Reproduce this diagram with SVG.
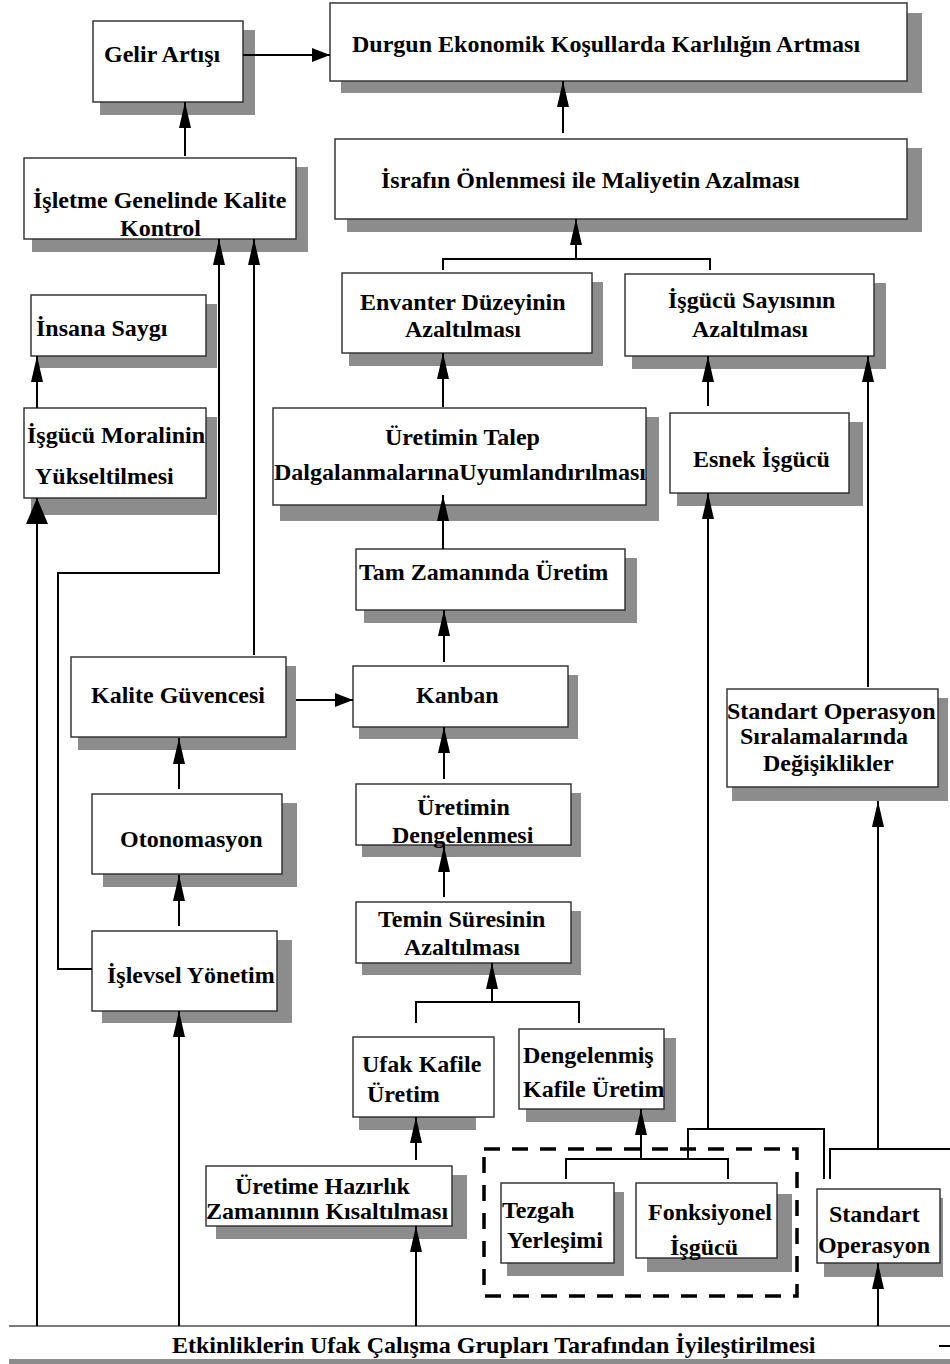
<svg xmlns="http://www.w3.org/2000/svg" width="950" height="1364" viewBox="0 0 950 1364">
<style>
.sh{fill:#8c8c8c;stroke:none}
.bx{fill:#fff;stroke:#2a2a2a;stroke-width:1.4}
.t{font-family:"Liberation Serif","Times New Roman",serif;font-weight:bold;font-size:24px;fill:#000}
.c{fill:none;stroke:#000;stroke-width:2}
.cv{fill:none;stroke:#000;stroke-width:2;marker-end:url(#av)}
.ch{fill:none;stroke:#000;stroke-width:2;marker-end:url(#ah)}
.cb{fill:none;stroke:#000;stroke-width:2;marker-end:url(#ab)}
.dash{fill:none;stroke:#000;stroke-width:3.5;stroke-dasharray:16 12}
</style>
<defs>
<marker id="av" markerUnits="userSpaceOnUse" viewBox="0 0 26 12" markerWidth="26" markerHeight="12" refX="26" refY="6" orient="auto"><path d="M0,0 L26,6 L0,12 Z" fill="#000"/></marker>
<marker id="ah" markerUnits="userSpaceOnUse" viewBox="0 0 18 14" markerWidth="18" markerHeight="14" refX="18" refY="7" orient="auto"><path d="M0,0 L18,7 L0,14 Z" fill="#000"/></marker>
<marker id="ab" markerUnits="userSpaceOnUse" viewBox="0 0 26 22" markerWidth="26" markerHeight="22" refX="26" refY="11" orient="auto"><path d="M0,0 L26,11 L0,22 Z" fill="#000"/></marker>
</defs>
<rect width="950" height="1364" fill="#fff"/>

<g id="n-gelir"><rect class="sh" x="100" y="30" width="155" height="85"/><rect class="bx" x="93" y="21" width="150" height="81"/><text class="t" x="104" y="62">Gelir Artışı</text></g>
<g id="n-durgun"><rect class="sh" x="341" y="13" width="581" height="80"/><rect class="bx" x="330" y="3" width="577" height="78"/><text class="t" x="352" y="52">Durgun Ekonomik Koşullarda Karlılığın Artması</text></g>
<g id="n-israf"><rect class="sh" x="347" y="148" width="575" height="84"/><rect class="bx" x="335" y="139" width="572" height="80"/><text class="t" x="381" y="188">İsrafın Önlenmesi ile Maliyetin Azalması</text></g>
<g id="n-isletme"><rect class="sh" x="32" y="167" width="276" height="85"/><rect class="bx" x="24" y="158" width="272" height="81"/><text class="t" x="33" y="208">İşletme Genelinde Kalite</text><text class="t" x="120" y="236">Kontrol</text></g>
<g id="n-envanter"><rect class="sh" x="349" y="282" width="254" height="84"/><rect class="bx" x="342" y="273" width="250" height="80"/><text class="t" x="360" y="310">Envanter Düzeyinin</text><text class="t" x="405" y="337">Azaltılması</text></g>
<g id="n-isgucusayi"><rect class="sh" x="632" y="283" width="254" height="86"/><rect class="bx" x="625" y="274" width="249" height="82"/><text class="t" x="668" y="308">İşgücü Sayısının</text><text class="t" x="692" y="337">Azaltılması</text></g>
<g id="n-insana"><rect class="sh" x="38" y="304" width="179" height="64"/><rect class="bx" x="31" y="295" width="175" height="61"/><text class="t" x="36" y="336">İnsana Saygı</text></g>
<g id="n-moral"><rect class="sh" x="31" y="417" width="186" height="98"/><rect class="bx" x="24" y="408" width="182" height="90"/><text class="t" x="27" y="443">İşgücü Moralinin</text><text class="t" x="35" y="484">Yükseltilmesi</text></g>
<g id="n-talep"><rect class="sh" x="280" y="417" width="379" height="104"/><rect class="bx" x="273" y="408" width="373" height="97"/><text class="t" x="385" y="445">Üretimin Talep</text><text class="t" x="274" y="480">DalgalanmalarınaUyumlandırılması</text></g>
<g id="n-esnek"><rect class="sh" x="677" y="422" width="186" height="84"/><rect class="bx" x="670" y="413" width="179" height="80"/><text class="t" x="693" y="467">Esnek İşgücü</text></g>
<g id="n-tam"><rect class="sh" x="364" y="558" width="273" height="65"/><rect class="bx" x="356" y="549" width="269" height="61"/><text class="t" x="359" y="580">Tam Zamanında Üretim</text></g>
<g id="n-kanban"><rect class="sh" x="359" y="675" width="219" height="64"/><rect class="bx" x="353" y="666" width="215" height="61"/><text class="t" x="416" y="703">Kanban</text></g>
<g id="n-kalite"><rect class="sh" x="78" y="666" width="218" height="84"/><rect class="bx" x="71" y="657" width="215" height="80"/><text class="t" x="91" y="703">Kalite Güvencesi</text></g>
<g id="n-stdsira"><rect class="sh" x="732" y="698" width="216" height="103"/><rect class="bx" x="727" y="689" width="211" height="98"/><text class="t" x="727" y="719">Standart Operasyon</text><text class="t" x="740" y="744">Sıralamalarında</text><text class="t" x="763" y="771">Değişiklikler</text></g>
<g id="n-oto"><rect class="sh" x="103" y="803" width="194" height="84"/><rect class="bx" x="92" y="794" width="190" height="80"/><text class="t" x="120" y="847">Otonomasyon</text></g>
<g id="n-deng"><rect class="sh" x="362" y="793" width="219" height="64"/><rect class="bx" x="356" y="784" width="215" height="61"/><text class="t" x="417" y="815">Üretimin</text><text class="t" x="392" y="843">Dengelenmesi</text></g>
<g id="n-temin"><rect class="sh" x="362" y="911" width="219" height="64"/><rect class="bx" x="356" y="902" width="215" height="61"/><text class="t" x="378" y="927">Temin Süresinin</text><text class="t" x="404" y="955">Azaltılması</text></g>
<g id="n-islevsel"><rect class="sh" x="102" y="940" width="190" height="83"/><rect class="bx" x="92" y="931" width="185" height="80"/><text class="t" x="107" y="983">İşlevsel Yönetim</text></g>
<g id="n-ufak"><rect class="sh" x="359" y="1045" width="117" height="85"/><rect class="bx" x="353" y="1037" width="141" height="80"/><text class="t" x="362" y="1072">Ufak Kafile</text><text class="t" x="367" y="1102">Üretim</text></g>
<g id="n-dengm"><rect class="sh" x="526" y="1038" width="150" height="84"/><rect class="bx" x="519" y="1029" width="145" height="80"/><text class="t" x="523" y="1063">Dengelenmiş</text><text class="t" x="523" y="1097">Kafile Üretim</text></g>
<g id="n-uretime"><rect class="sh" x="216" y="1175" width="251" height="64"/><rect class="bx" x="206" y="1166" width="246" height="60"/><text class="t" x="235" y="1194">Üretime Hazırlık</text><text class="t" x="206" y="1219">Zamanının Kısaltılması</text></g>
<g id="n-tezgah"><rect class="sh" x="507" y="1192" width="117" height="84"/><rect class="bx" x="501" y="1183" width="113" height="80"/><text class="t" x="502" y="1218">Tezgah</text><text class="t" x="507" y="1248">Yerleşimi</text></g>
<g id="n-fonks"><rect class="sh" x="647" y="1194" width="145" height="78"/><rect class="bx" x="636" y="1183" width="141" height="75"/><text class="t" x="648" y="1220">Fonksiyonel</text><text class="t" x="670" y="1255">İşgücü</text></g>
<g id="n-stdop"><rect class="sh" x="824" y="1198" width="119" height="79"/><rect class="bx" x="817" y="1189" width="123" height="74"/><text class="t" x="829" y="1222">Standart</text><text class="t" x="818" y="1253">Operasyon</text></g>
<g id="n-group"><rect class="dash" x="484" y="1149" width="313" height="147"/></g>
<g id="n-etkinlik"><rect x="9" y="1359" width="941" height="5" fill="#8c8c8c"/><line x1="9" y1="1326" x2="950" y2="1326" stroke="#7a7a7a" stroke-width="2"/><text class="t" x="172" y="1353">Etkinliklerin Ufak Çalışma Grupları Tarafından İyileştirilmesi</text><line x1="939" y1="1346" x2="950" y2="1346" stroke="#000" stroke-width="2"/></g>

<g id="connectors">
<path class="ch" d="M243,55 H330"/>
<path class="cv" d="M185,156 V102"/>
<path class="cv" d="M563,133 V81"/>
<path class="c" d="M443,270 V259 H710 V270"/>
<path class="cv" d="M576,259 V219"/>
<path class="cv" d="M443,407 V353"/>
<path class="cv" d="M708,406 V356"/>
<path class="cv" d="M868,687 V356"/>
<path class="cv" d="M37,408 V356"/>
<path class="cb" d="M37,1326 V498"/>
<path class="cv" d="M92,969 H58 V573 H219 V239"/>
<path class="cv" d="M254,655 V239"/>
<path class="cv" d="M443,549 V495"/>
<path class="cv" d="M444,662 V610"/>
<path class="ch" d="M296,700 H353"/>
<path class="cv" d="M179,789 V738"/>
<path class="cv" d="M179,926 V875"/>
<path class="cv" d="M179,1326 V1011"/>
<path class="cv" d="M444,779 V727"/>
<path class="cv" d="M444,897 V846"/>
<path class="c" d="M416,1023 V1002 H579 V1023"/>
<path class="cv" d="M492,1002 V963"/>
<path class="cv" d="M416,1160 V1117"/>
<path class="cv" d="M416,1326 V1226"/>
<path class="c" d="M566,1179 V1159 H728 V1179"/>
<path class="cv" d="M641,1159 V1109"/>
<path class="c" d="M688,1159 V1129 H824 V1179"/>
<path class="cv" d="M708,1129 V493"/>
<path class="c" d="M830,1179 V1149 H950"/>
<path class="cv" d="M878,1149 V801"/>
<path class="cv" d="M878,1326 V1263"/>
</g>
</svg>
